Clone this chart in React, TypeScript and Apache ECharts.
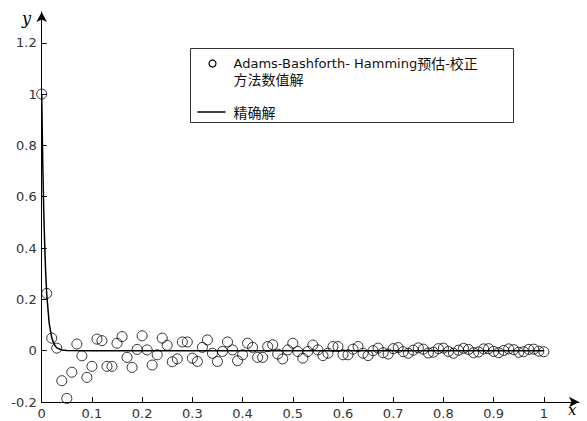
import React, { useEffect, useRef } from "react";
import * as echarts from "echarts";

// Numerical solution (Adams-Bashforth-Hamming predictor-corrector), step h = 0.01, x from 0 to 1
const stepH = 0.01;
const numericY: number[] = [
  1, 0.223, 0.049, 0.01, -0.117, -0.186, -0.084, 0.026, -0.02, -0.104,
  -0.061, 0.045, 0.039, -0.061, -0.061, 0.029, 0.055, -0.026, -0.065, 0.005,
  0.058, 0.003, -0.056, -0.016, 0.049, 0.021, -0.043, -0.032, 0.034, 0.034,
  -0.029, -0.042, 0.013, 0.042, -0.01, -0.042, -0.003, 0.034, 0.003, -0.039,
  -0.016, 0.029, 0.013, -0.026, -0.026, 0.016, 0.023, -0.013, -0.032, 0.003,
  0.029, -0.003, -0.029, -0.003, 0.022, 0.003, -0.019, -0.01, 0.016, 0.016,
  -0.016, -0.016, 0.006, 0.016, -0.01, -0.019, 0.0, 0.01, -0.008, -0.013,
  0.008, 0.012, -0.004, -0.01, 0.002, 0.011, 0.006, -0.009, -0.006, 0.008,
  0.01, -0.003, -0.01, 0.002, 0.009, 0.005, -0.008, -0.005, 0.007, 0.008,
  -0.003, -0.008, 0.001, 0.007, 0.004, -0.006, -0.004, 0.005, 0.006, -0.002,
  -0.004,
];

// Exact solution samples
const exactX: number[] = [0, 0.002, 0.004, 0.006, 0.008, 0.01, 0.015, 0.02, 0.025, 0.03, 0.04, 0.05, 0.1, 1];
const exactY: number[] = [1, 0.74, 0.55, 0.41, 0.3, 0.22, 0.105, 0.05, 0.024, 0.011, 0.0025, 0.0005, 0, 0];

const xTicks: number[] = [0, 0.1, 0.2, 0.3, 0.4, 0.5, 0.6, 0.7, 0.8, 0.9, 1];
const yTicks: number[] = [-0.2, 0, 0.2, 0.4, 0.6, 0.8, 1, 1.2];

const seriesNumName = "Adams-Bashforth- Hamming预估-校正\n方法数值解";
const seriesExactName = "精确解";
const legendNumLine1 = "{l|Adams-Bashforth- Hamming}{c|预估}{l|-}{c|校正}";
const legendNumLine2 = "{c|方法数值解}";
const legendExactRich = "{c|精确解}";

const FONT = "'DejaVu Sans', 'Noto Sans CJK SC', sans-serif";
const CJK = "'Noto Sans CJK SC', sans-serif";

export default function App() {
  const ref = useRef<HTMLDivElement>(null);
  useEffect(() => {
    if (!ref.current) return;
    const chart = echarts.init(ref.current, undefined, { renderer: "svg" });
    const numData = numericY.map((v, i) => [Math.round(i * stepH * 100) / 100, v]);
    const exactData = exactX.map((x, i) => [x, exactY[i]]);
    const rich = {
      l: { fontFamily: FONT, fontSize: 13, lineHeight: 15, fill: "#111", color: "#111" },
      c: { fontFamily: CJK, fontSize: 14, lineHeight: 15, fill: "#111", color: "#111" },
    };
    chart.setOption({
      animation: false,
      backgroundColor: "#fff",
      grid: { left: 41.7, right: 8, top: 12, bottom: 19, containLabel: false },
      xAxis: {
        type: "value",
        min: 0,
        max: 1.07,
        splitLine: { show: false },
        axisLine: {
          show: true,
          onZero: false,
          lineStyle: { color: "#000", width: 1 },
          symbol: ["none", "arrow"],
          symbolSize: [8, 10],
        },
        axisTick: { show: true, inside: true, length: 5, lineStyle: { color: "#000" }, customValues: xTicks },
        axisLabel: {
          customValues: xTicks,
          margin: 5,
          color: "#333",
          fontSize: 13,
          fontFamily: FONT,
          formatter: (v: number) => String(Math.round(v * 10) / 10),
        },
      },
      yAxis: {
        type: "value",
        min: -0.2,
        max: 1.32,
        splitLine: { show: false },
        axisLine: {
          show: true,
          onZero: false,
          lineStyle: { color: "#000", width: 1 },
          symbol: ["none", "arrow"],
          symbolSize: [8, 10],
        },
        axisTick: { show: true, inside: true, length: 5, lineStyle: { color: "#000" }, customValues: yTicks },
        axisLabel: {
          customValues: yTicks,
          margin: 5,
          color: "#333",
          fontSize: 13,
          fontFamily: FONT,
          formatter: (v: number) => String(Math.round(v * 10) / 10),
        },
      },
      series: [
        {
          name: seriesExactName,
          type: "line",
          data: exactData,
          showSymbol: false,
          symbol: "none",
          lineStyle: { color: "#000", width: 1.5 },
          z: 2,
        },
        {
          name: seriesNumName,
          type: "scatter",
          data: numData,
          symbol: "circle",
          symbolSize: 10,
          itemStyle: { color: "transparent", borderColor: "#000", borderWidth: 1 },
          z: 3,
        },
      ],
      graphic: [
        { type: "text", left: 22, top: 10, style: { text: "y", font: "italic 16px 'DejaVu Serif', 'Liberation Serif', serif", fill: "#000" } },
        { type: "text", left: 568, top: 402, style: { text: "x", font: "italic 15px 'DejaVu Serif', 'Liberation Serif', serif", fill: "#000" } },
        {
          type: "group",
          left: 190,
          top: 48,
          children: [
            { type: "rect", shape: { x: 0, y: 0, width: 323, height: 74 }, style: { fill: "#fff", stroke: "#333", lineWidth: 1 } },
            { type: "circle", shape: { cx: 22, cy: 15, r: 3.5 }, style: { fill: "none", stroke: "#000", lineWidth: 1.2 } },
            { type: "text", x: 43, y: 7, style: { text: legendNumLine1, rich, fill: "#111" } },
            { type: "text", x: 43, y: 23, style: { text: legendNumLine2, rich, fill: "#111" } },
            { type: "line", shape: { x1: 7, y1: 63.5, x2: 35, y2: 63.5 }, style: { stroke: "#000", lineWidth: 1.5 } },
            { type: "text", x: 43, y: 56, style: { text: legendExactRich, rich, fill: "#111" } },
          ],
        },
      ],
    });
    return () => chart.dispose();
  }, []);
  return <div ref={ref} style={{ width: 587, height: 421, position: "absolute", left: 0, top: 0 }} />;
}
